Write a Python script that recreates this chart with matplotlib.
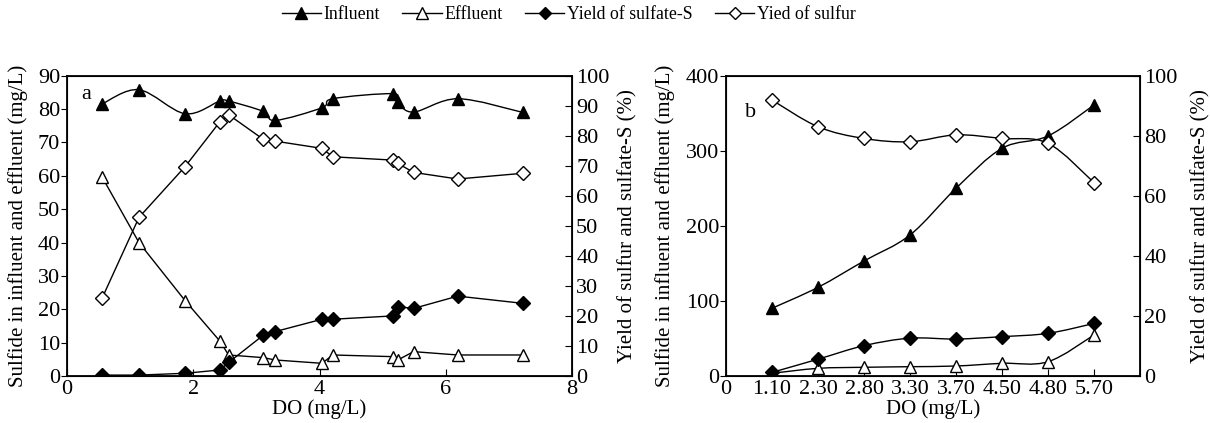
import numpy as np
import matplotlib.pyplot as plt
from matplotlib.path import Path
from matplotlib.patches import PathPatch
from matplotlib.lines import Line2D

plt.rcParams['font.family'] = ['Liberation Serif', 'DejaVu Serif']

# panel a: DO (mg/L)
do_a = [0.56, 1.14, 1.87, 2.42, 2.56, 3.11, 3.30, 4.04, 4.21, 5.16, 5.24, 5.49, 6.19, 7.22]
influent_a = [81.6, 85.8, 78.6, 82.4, 82.4, 79.3, 76.6, 80.4, 83.1, 84.6, 82.1, 79.1, 83.1, 79.0]
effluent_a = [59.5, 40.0, 22.6, 10.5, 6.3, 5.5, 4.8, 3.8, 6.3, 5.8, 4.8, 7.3, 6.3, 6.3]
sulfate_a = [0.3, 0.3, 0.9, 2.0, 4.5, 13.6, 14.8, 18.9, 18.9, 20.0, 23.1, 22.5, 26.6, 24.2]
sulfur_a = [26.1, 52.8, 69.7, 84.6, 87.0, 78.8, 78.2, 75.8, 73.0, 71.9, 70.8, 67.8, 65.6, 67.5]

# panel b: categorical DO
do_b = ['1.10', '2.30', '2.80', '3.30', '3.70', '4.50', '4.80', '5.70']
influent_b = [90.2, 118.1, 153.2, 187.8, 250.0, 303.3, 319.7, 361.0]
effluent_b = [3.6, 10.2, 11.6, 12.4, 13.3, 16.9, 19.0, 54.6]
sulfate_b = [1.2, 5.6, 10.1, 12.6, 12.3, 13.1, 14.2, 17.5]
sulfur_b = [91.9, 83.0, 79.1, 78.0, 80.3, 79.1, 77.5, 64.4]

LW = 1.0
MS_T = 9
MS_D = 7
TICK_FS = 16
LABEL_FS = 15


def smooth_line(ax, x, y):
    # Catmull-Rom curve through the points, drawn as cubic Bezier segments
    pts = np.column_stack([np.asarray(x, float), np.asarray(y, float)])
    n = len(pts)
    verts = [pts[0]]
    codes = [Path.MOVETO]
    for i in range(n - 1):
        p0 = pts[max(i - 1, 0)]
        p1 = pts[i]
        p2 = pts[i + 1]
        p3 = pts[min(i + 2, n - 1)]
        verts += [p1 + (p2 - p0) / 6.0, p2 - (p3 - p1) / 6.0, p2]
        codes += [Path.CURVE4] * 3
    ax.add_patch(PathPatch(Path(verts, codes), fill=False, lw=LW, color='black', zorder=2))


def series(ax, x, y, marker, fill, ms, smooth=False):
    if smooth:
        smooth_line(ax, x, y)
    ax.plot(x, y, ls='none' if smooth else '-', color='black', lw=LW, marker=marker, ms=ms,
            mfc='black' if fill else 'white', mec='black', mew=1.0, zorder=3)


def style(ax, ax2):
    ax.tick_params(axis='y', direction='out', labelsize=TICK_FS, length=4, pad=1)
    ax.tick_params(axis='x', direction='in', labelsize=TICK_FS, length=5, pad=3)
    ax2.tick_params(axis='y', direction='in', labelsize=TICK_FS, length=5, pad=3)
    for s in ax.spines.values():
        s.set_linewidth(1.3)


fig = plt.figure(figsize=(12.1, 4.23), dpi=100)

# ---- panel a
ax = fig.add_axes([67/1210, 47/423, 505/1210, 300.3/423])
ax2 = ax.twinx()
series(ax, do_a, influent_a, '^', True, MS_T, smooth=True)
series(ax, do_a, effluent_a, '^', False, MS_T)
series(ax2, do_a, sulfate_a, 'D', True, MS_D)
series(ax2, do_a, sulfur_a, 'D', False, MS_D)
ax.set_xlim(0, 8)
ax.set_ylim(0, 90)
ax2.set_ylim(0, 100)
ax.set_xticks([0, 2, 4, 6, 8])
ax.set_yticks(range(0, 91, 10))
ax2.set_yticks(range(0, 101, 10))
ax.set_xlabel('DO (mg/L)', fontsize=LABEL_FS, labelpad=0)
ax.set_ylabel('Sulfide in influent and effluent (mg/L)', fontsize=LABEL_FS, labelpad=7)
ax2.set_ylabel('Yield of sulfur and sulfate-S (%)', fontsize=LABEL_FS, labelpad=6)
ax.text(0.028, 0.936, 'a', transform=ax.transAxes, fontsize=16, va='center')
style(ax, ax2)

# ---- panel b
bx = fig.add_axes([726/1210, 47/423, 414/1210, 300.3/423])
bx2 = bx.twinx()
pos = np.arange(1, len(do_b) + 1)
series(bx, pos, influent_b, '^', True, MS_T, smooth=True)
series(bx, pos, effluent_b, '^', False, MS_T, smooth=True)
series(bx2, pos, sulfate_b, 'D', True, MS_D, smooth=True)
series(bx2, pos, sulfur_b, 'D', False, MS_D, smooth=True)
bx.set_xlim(0, len(do_b) + 1)
bx.set_ylim(0, 400)
bx2.set_ylim(0, 100)
bx.set_xticks(np.arange(0, len(do_b) + 1))
bx.set_xticklabels(['0'] + do_b)
bx.set_yticks(range(0, 401, 100))
bx2.set_yticks(range(0, 101, 20))
bx.set_xlabel('DO (mg/L)', fontsize=LABEL_FS, labelpad=0)
bx.set_ylabel('Sulfide in influent and effluent (mg/L)', fontsize=LABEL_FS, labelpad=8)
bx2.set_ylabel('Yield of sulfur and sulfate-S (%)', fontsize=LABEL_FS, labelpad=10)
bx.text(0.046, 0.879, 'b', transform=bx.transAxes, fontsize=16, va='center')
style(bx, bx2)

# ---- legend
handles = [
    Line2D([], [], color='black', lw=LW, marker='^', ms=8, mfc='black', mec='black'),
    Line2D([], [], color='black', lw=LW, marker='^', ms=8, mfc='white', mec='black'),
    Line2D([], [], color='black', lw=LW, marker='D', ms=6, mfc='black', mec='black'),
    Line2D([], [], color='black', lw=LW, marker='D', ms=6, mfc='white', mec='black'),
]
labels = ['Influent', 'Effluent', 'Yield of sulfate-S', 'Yied of sulfur']
fig.legend(handles, labels, loc='center', bbox_to_anchor=(0.470, 0.965), ncol=4,
           frameon=False, fontsize=12.8, handlelength=2.2, handletextpad=0.17,
           columnspacing=1.25)

fig.savefig('out.png', dpi=100)
